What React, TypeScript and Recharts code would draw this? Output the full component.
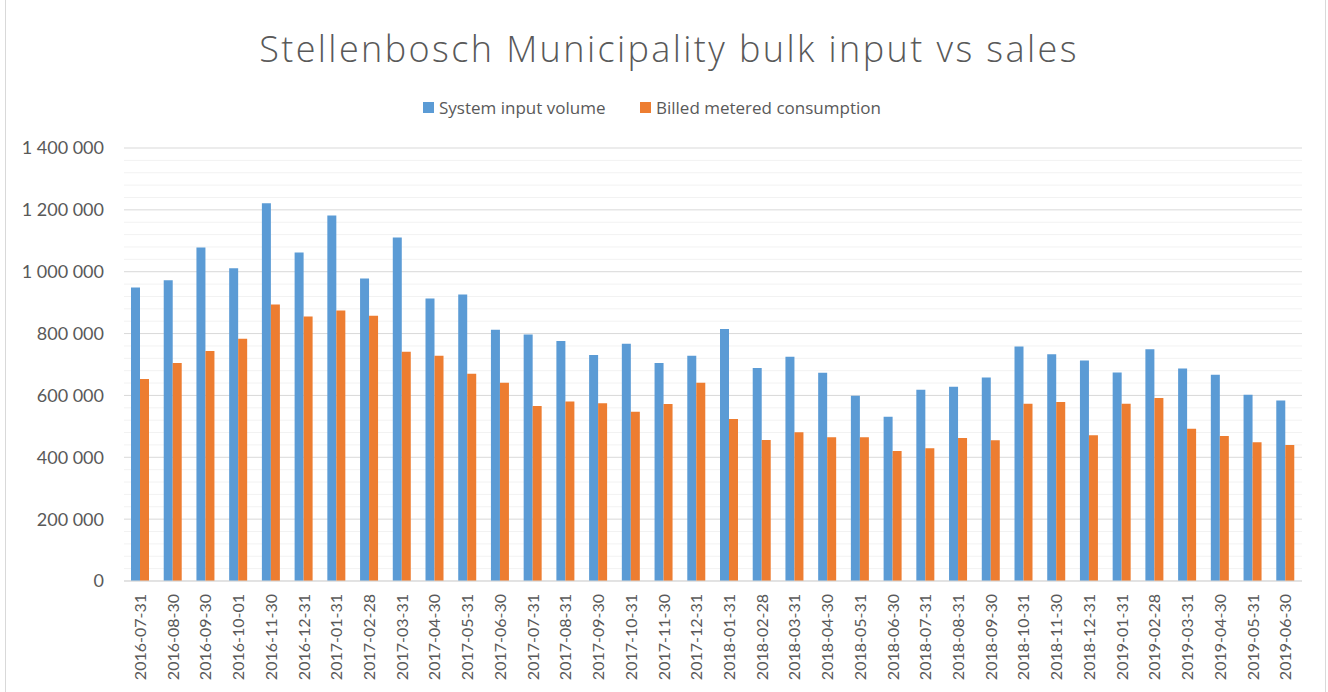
import React from 'react';
import { BarChart, Bar, XAxis, YAxis, CartesianGrid } from 'recharts';

const dates = [
  '2016-07-31', '2016-08-30', '2016-09-30', '2016-10-01', '2016-11-30', '2016-12-31',
  '2017-01-31', '2017-02-28', '2017-03-31', '2017-04-30', '2017-05-31', '2017-06-30',
  '2017-07-31', '2017-08-31', '2017-09-30', '2017-10-31', '2017-11-30', '2017-12-31',
  '2018-01-31', '2018-02-28', '2018-03-31', '2018-04-30', '2018-05-31', '2018-06-30',
  '2018-07-31', '2018-08-31', '2018-09-30', '2018-10-31', '2018-11-30', '2018-12-31',
  '2019-01-31', '2019-02-28', '2019-03-31', '2019-04-30', '2019-05-31', '2019-06-30'
];

const systemInput = [
  949000, 972000, 1078000, 1011000, 1221000, 1062000,
  1182000, 978000, 1111000, 913000, 926000, 812000,
  797000, 776000, 731000, 767000, 705000, 728000,
  815000, 689000, 725000, 673000, 599000, 531000,
  618000, 628000, 658000, 758000, 733000, 713000,
  674000, 749000, 687000, 667000, 602000, 584000
];

const billedMetered = [
  653000, 705000, 744000, 783000, 894000, 855000,
  875000, 858000, 741000, 728000, 670000, 641000,
  566000, 580000, 575000, 547000, 572000, 641000,
  524000, 456000, 481000, 465000, 465000, 420000,
  429000, 462000, 455000, 573000, 579000, 471000,
  573000, 592000, 492000, 469000, 449000, 440000
];

// 40k minor steps, labels only on the 200k ones
const yTicks = Array.from({ length: 36 }, (_, i) => i * 40000);

const BLUE = '#5B9BD5';
const ORANGE = '#ED7D31';
const TEXT = '#595959';
const FONT = 'Lato, "Open Sans", sans-serif';
const HEAD_FONT = '"Open Sans", Lato, sans-serif';

const data = dates.map((d, i) => ({ date: d, input: systemInput[i], billed: billedMetered[i] }));

function fmt(v: number) {
  if (v % 200000 !== 0) return '';
  return v.toLocaleString('en-US').replace(/,/g, ' ');
}

function DateTick(props: any) {
  const { x, y, payload } = props;
  const ty = y + 13;
  return (
    <text
      x={x}
      y={ty}
      dy="0.35em"
      transform={`rotate(-90, ${x}, ${ty})`}
      textAnchor="end"
      fill={TEXT}
      fontSize={16}
      fontFamily={FONT}
    >
      {payload.value}
    </text>
  );
}

function GridLine(p: any) {
  let major = p.index % 5 === 0;
  if (typeof p.y === 'number' && typeof p.height === 'number' && p.height > 0) {
    const v = ((p.y + p.height - p.y1) / p.height) * 1400000;
    major = Math.round(v / 40000) % 5 === 0;
  }
  return (
    <line
      key={p.key}
      x1={p.x1}
      x2={p.x2}
      y1={p.y1}
      y2={p.y2}
      stroke={major ? '#d9d9d9' : '#f2f2f2'}
      strokeWidth={1}
    />
  );
}

function LegendItem({ color, label, left }: { color: string; label: string; left: number }) {
  return (
    <div style={{ position: 'absolute', left, top: 96, display: 'flex', alignItems: 'center' }}>
      <span style={{ width: 11, height: 11, background: color, display: 'inline-block', marginRight: 5 }} />
      <span style={{ fontSize: 17, color: TEXT, fontFamily: HEAD_FONT, whiteSpace: 'nowrap' }}>{label}</span>
    </div>
  );
}

export default function App() {
  return (
    <div style={{ position: 'absolute', left: 0, top: 0, width: 1328, height: 692, background: '#fff', overflow: 'hidden' }}>
      <div
        style={{
          position: 'absolute',
          left: 5,
          top: -2,
          width: 1321,
          height: 700,
          border: '1px solid #d9d9d9',
          boxSizing: 'border-box'
        }}
      />
      <div
        style={{
          position: 'absolute',
          left: 0,
          width: 1338,
          top: 24,
          textAlign: 'center',
          fontFamily: HEAD_FONT,
          fontWeight: 300,
          fontSize: 36,
          letterSpacing: 2.4,
          color: TEXT,
          whiteSpace: 'nowrap'
        }}
      >
        Stellenbosch Municipality bulk input vs sales
      </div>
      <LegendItem color={BLUE} label="System input volume" left={423} />
      <LegendItem color={ORANGE} label="Billed metered consumption" left={640} />
      <div style={{ position: 'absolute', left: 0, top: 0 }}>
        <BarChart
          width={1328}
          height={692}
          data={data}
          margin={{ top: 148, right: 26, bottom: 0, left: 0 }}
          barGap={0}
        >
          <CartesianGrid vertical={false} horizontal={GridLine} />
          <XAxis
            dataKey="date"
            interval={0}
            height={111}
            tickSize={0}
            tickMargin={0}
            tickLine={false}
            axisLine={{ stroke: '#d9d9d9' }}
            tick={<DateTick />}
          />
          <YAxis
            width={124}
            domain={[0, 1400000]}
            ticks={yTicks}
            interval={0}
            tickFormatter={fmt}
            tickSize={0}
            tickMargin={20}
            axisLine={false}
            tickLine={false}
            tick={{ fill: TEXT, fontSize: 18, fontFamily: FONT }}
          />
          <Bar dataKey="input" name="System input volume" fill={BLUE} barSize={9} isAnimationActive={false} />
          <Bar dataKey="billed" name="Billed metered consumption" fill={ORANGE} barSize={9} isAnimationActive={false} />
        </BarChart>
      </div>
    </div>
  );
}
